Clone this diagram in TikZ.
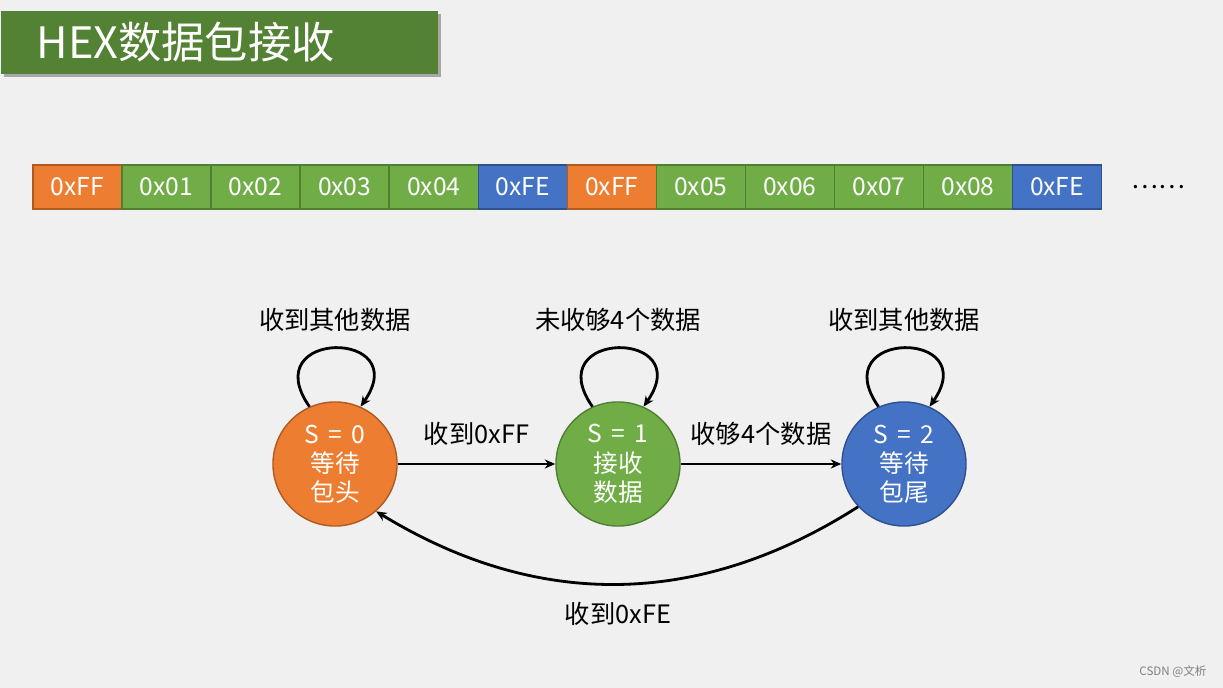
\documentclass[tikz,border=0pt]{standalone}
\usepackage{fontspec}
\setmainfont{Noto Sans CJK SC}
\usepackage{xcolor}
\usepackage{tikz}
\usetikzlibrary{
  arrows.meta,
  positioning,
  shadows
}
\definecolor{bggray}{RGB}{240,240,240}
\definecolor{titlegreen}{RGB}{84,130,53}
\definecolor{byteorange}{RGB}{237,125,49}
\definecolor{bytegreen}{RGB}{112,173,71}
\definecolor{byteblue}{RGB}{68,114,196}
\definecolor{rimorange}{RGB}{174,90,33}
\definecolor{rimgreen}{RGB}{80,126,50}
\definecolor{rimblue}{RGB}{47,82,143}
\newcommand{\stlabel}[1]{S\hspace{1pt} = \hspace{1pt}#1}

\begin{document}
\begin{tikzpicture}[
  x=0.01cm, y=-0.01cm,
  banner/.style={fill=titlegreen,anchor=north west,minimum width=4.37cm,
                 minimum height=0.63cm,text width=3.65cm,inner xsep=0.36cm,
                 inner ysep=0pt,align=left,text=white,
                 font=\fontsize{12.3}{13}\selectfont,
                 drop shadow={shadow xshift=0.03cm,shadow yshift=-0.03cm,
                              fill=black,opacity=0.3}},
  byte/.style={draw,minimum width=0.89cm,minimum height=0.44cm,inner sep=0pt,
               outer sep=0pt,line width=0.4pt,text=white,
               font=\fontsize{7}{8}\selectfont},
  ff/.style={byte,fill=byteorange,draw=rimorange},
  dat/.style={byte,fill=bytegreen,draw=rimgreen},
  fe/.style={byte,fill=byteblue,draw=rimblue},
  state/.style={circle,minimum size=1.24cm,inner sep=0pt,line width=0.4pt,
                text=white,align=center,font=\fontsize{7}{8.3}\selectfont},
  edge/.style={-{Stealth[length=3pt,width=2.6pt]},line width=0.8pt},
  selfloop/.style={edge,out=125,in=55,distance=0.95cm},
  lbl/.style={font=\fontsize{7.2}{8}\selectfont},
]
\useasboundingbox (0,0) rectangle (1223,688);
\fill[bggray] (0,0) rectangle (1223,688);

\node[banner] (title) at (0,10) {HEX数据包接收};

% byte stream
\node[ff]               (b1)  at (77.5,187) {0xFF};
\node[dat, right=0pt of b1]  (b2)  {0x01};
\node[dat, right=0pt of b2]  (b3)  {0x02};
\node[dat, right=0pt of b3]  (b4)  {0x03};
\node[dat, right=0pt of b4]  (b5)  {0x04};
\node[fe,  right=0pt of b5]  (b6)  {0xFE};
\node[ff,  right=0pt of b6]  (b7)  {0xFF};
\node[dat, right=0pt of b7]  (b8)  {0x05};
\node[dat, right=0pt of b8]  (b9)  {0x06};
\node[dat, right=0pt of b9]  (b10) {0x07};
\node[dat, right=0pt of b10] (b11) {0x08};
\node[fe,  right=0pt of b11] (b12) {0xFE};
\node[lbl] (more) at (1158,187) {……};

% state machine
\node[state,fill=byteorange,draw=rimorange] (s0) at (335,464) {\stlabel{0}\\等待\\包头};
\node[state,fill=bytegreen,draw=rimgreen]   (s1) at (618,464) {\stlabel{1}\\接收\\数据};
\node[state,fill=byteblue,draw=rimblue]     (s2) at (904,464) {\stlabel{2}\\等待\\包尾};

\draw[selfloop] (s0.114) to node[lbl,midway,above=0.04cm]{收到其他数据} (s0.66);
\draw[selfloop] (s1.114) to node[lbl,midway,above=0.04cm]{未收够4个数据} (s1.66);
\draw[selfloop] (s2.114) to node[lbl,midway,above=0.04cm]{收到其他数据} (s2.66);

\draw[edge] (s0) -- node[lbl,above=0.05cm]{收到0xFF} (s1);
\draw[edge] (s1) -- node[lbl,above=0.05cm]{收够4个数据} (s2);
\draw[edge] (s2.-137) to[bend left=32] node[lbl,midway,below=0.05cm]{收到0xFE} (s0.-49);

\node[text=gray,font=\fontsize{3.3}{4}\selectfont] (mark) at (1173,672) {CSDN @文析};
\end{tikzpicture}
\end{document}
